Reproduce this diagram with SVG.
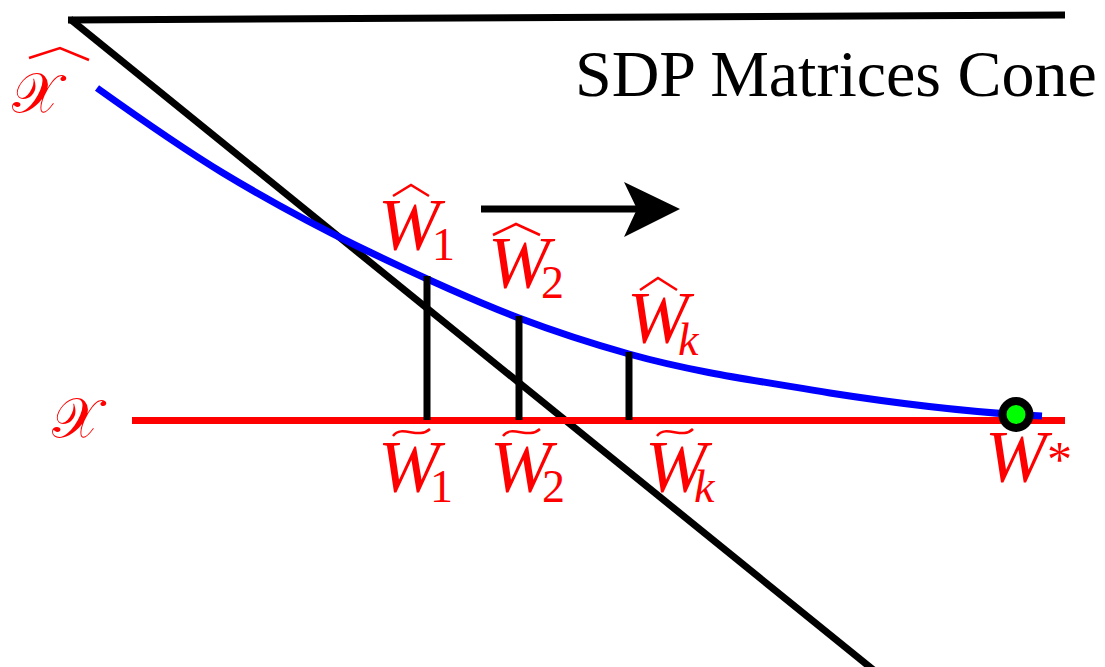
<svg xmlns="http://www.w3.org/2000/svg" width="1105" height="667" viewBox="0 0 1105 667">
<style>
.blk{stroke:#000;stroke-width:7;fill:none;stroke-linecap:butt}
.red{fill:#ff0000;font-family:"Liberation Serif","Times New Roman",serif}
.w{font-style:italic;font-size:74px}
.sub{font-size:46px}
.acc{stroke:#ff0000;stroke-width:2.5;fill:none}
</style>
<rect width="1105" height="667" fill="#fff"/>
<g id="connectors">
<line class="blk" x1="68" y1="20" x2="1065" y2="15"/>
<line class="blk" x1="70" y1="19" x2="876" y2="672"/>
<line x1="132" y1="420.5" x2="1065" y2="420.5" stroke="#ff0000" stroke-width="7"/>
<path d="M97,88 C139,118 181,147.5 223,173 C267.7,200 312.3,224 357,246 C411,272 465,297.5 519,318 C555.7,331.9 592.3,343.7 629,354 C696,372.8 763,381.6 830,393 C900,403.9 970,412.5 1042,416" stroke="#0000ff" stroke-width="7" fill="none"/>
<line class="blk" stroke-width="6" x1="427" y1="276" x2="427" y2="420"/>
<line class="blk" stroke-width="6" x1="519" y1="316" x2="519" y2="420"/>
<line class="blk" stroke-width="6" x1="629" y1="352" x2="629" y2="420"/>
<line class="blk" stroke-width="9" x1="481" y1="209" x2="640" y2="209"/>
<polygon points="624,182 680,209 624,237 637,209" fill="#000"/>
</g>
<g id="title">
<text x="575" y="96" font-family="Liberation Serif,serif" font-size="66" fill="#000">SDP Matrices Cone</text>
</g>
<g id="xhat">
<text class="red" x="12" y="112" font-size="56" font-family="DejaVu Serif,serif">𝒳</text>
<path class="acc" d="M29,58 L60,48 L89,60"/>
</g>
<g id="x">
<text class="red" x="52" y="437" font-size="56" font-family="DejaVu Serif,serif">𝒳</text>
</g>
<g id="w1hat">
<text class="red w" x="378" y="250">W</text>
<text class="red sub" x="432" y="260">1</text>
<path class="acc" d="M393,196 L411,185 L429,196"/>
</g>
<g id="w2hat">
<text class="red w" x="488" y="288">W</text>
<text class="red sub" x="541" y="298">2</text>
<path class="acc" d="M493,235 L516,224 L540,235"/>
</g>
<g id="wkhat">
<text class="red w" x="627" y="343">W</text>
<text class="red sub" x="678" y="355" font-style="italic">k</text>
<path class="acc" d="M640,290 L658,278 L677,290"/>
</g>
<g id="w1tilde">
<text class="red w" x="378" y="492">W</text>
<text class="red sub" x="430" y="502">1</text>
<path class="acc" d="M393,436 C402,424 418,440 430,429"/>
</g>
<g id="w2tilde">
<text class="red w" x="490" y="492">W</text>
<text class="red sub" x="542" y="502">2</text>
<path class="acc" d="M503,436 C512,424 528,440 540,429"/>
</g>
<g id="wktilde">
<text class="red w" x="645" y="492">W</text>
<text class="red sub" x="694" y="502" font-style="italic">k</text>
<path class="acc" d="M657,436 C666,424 682,440 693,429"/>
</g>
<g id="wstar">
<circle cx="1016" cy="414.5" r="13.5" fill="#00ff00" stroke="#000" stroke-width="8"/>
<text class="red w" x="985" y="482">W</text>
<text class="red" x="1047" y="476" font-size="50">*</text>
</g>
</svg>
